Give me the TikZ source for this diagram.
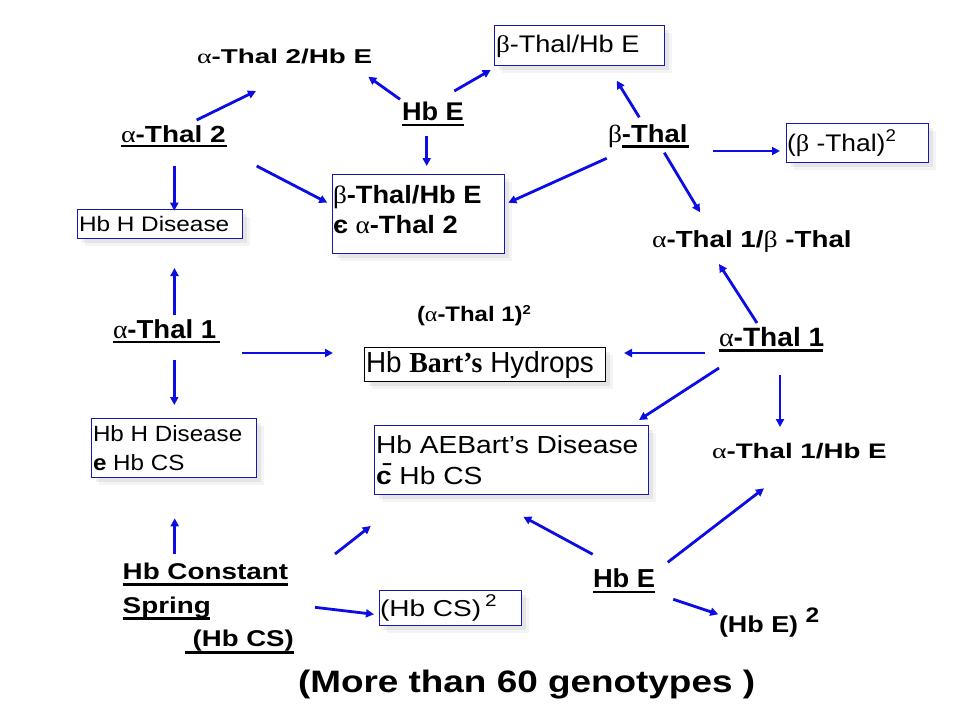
\documentclass[tikz,border=0pt]{standalone}
\usepackage{fontspec}
\setmainfont{Liberation Sans}
\newfontfamily\serifb{Liberation Serif}
\usetikzlibrary{arrows.meta,shadows}
\definecolor{arrblue}{RGB}{12,12,228}
\definecolor{boxblue}{RGB}{24,24,176}
\newcommand\galpha{{\serifb\mdseries α}}
\newcommand\gbeta{{\serifb\mdseries β}}
\newcommand\mytxt[3]{\scalebox{#1}[1]{\fontsize{#2}{#2}\selectfont #3}}
\tikzset{
  txt/.style={inner sep=0pt,outer sep=0pt,anchor=base west},
  boxst/.style={draw=boxblue,line width=1.1pt,fill=white,inner sep=0pt,anchor=north west,
    drop shadow={shadow xshift=4pt,shadow yshift=-4pt,opacity=.10,fill=black!60},
    drop shadow={shadow xshift=7pt,shadow yshift=-7pt,opacity=.07,fill=black!60}},
  blackbox/.style={boxst,draw=black},
  arr/.style={draw=arrblue,line width=2.8pt,-{Triangle[length=8pt,width=8pt]}},
  ul/.style={draw=black,line width=2.8pt}
}
\begin{document}
\begin{tikzpicture}[x=1pt,y=-1pt]
\useasboundingbox[fill=white] (0,0) rectangle (960,720);
% boxes
\node[boxst,minimum width=170pt,minimum height=40pt] (b1) at (494,25) {};
\node[boxst,minimum width=142pt,minimum height=39pt] (b2) at (786,123) {};
\node[boxst,minimum width=165pt,minimum height=29pt] (b3) at (77,209) {};
\node[boxst,minimum width=172pt,minimum height=79pt] (b4) at (332,174) {};
\node[blackbox,minimum width=241pt,minimum height=34pt] (b5) at (364,347) {};
\node[boxst,minimum width=165pt,minimum height=59pt] (b6) at (91,418) {};
\node[boxst,minimum width=274pt,minimum height=69pt] (b7) at (374,425) {};
\node[boxst,minimum width=142pt,minimum height=35pt] (b8) at (379,590) {};
% texts
\node[txt] (t1) at (197,63) {\mytxt{1.39}{20}{\bfseries\galpha-Thal 2/Hb E}};
\node[txt] (t2) at (496,52) {\mytxt{1.13}{24}{\gbeta-Thal/Hb E}};
\node[txt] (t3) at (402,120) {\mytxt{1.06}{25.6}{\bfseries Hb E}};
\node[txt] (t4) at (121,142) {\mytxt{1.2}{23.3}{\bfseries\galpha-Thal 2}};
\node[txt] (t5) at (608,142) {\mytxt{1.11}{24.7}{\bfseries\gbeta-Thal}};
\node[txt] (t6) at (787,151) {\mytxt{1.1}{24}{(\gbeta\ -Thal)\raisebox{10pt}{\fontsize{17}{17}\selectfont 2}}};
\node[txt] (t7) at (79,231.5) {\mytxt{1.16}{21}{Hb H Disease}};
\node[txt] (t8a) at (333,203) {\mytxt{1.09}{25}{\bfseries\gbeta-Thal/Hb E}};
\node[txt] (t8b) at (333,233) {\mytxt{1.09}{25}{\bfseries є \galpha-Thal 2}};
\node[txt] (t9) at (652,247) {\mytxt{1.19}{23.3}{\bfseries\galpha-Thal 1/\gbeta\ -Thal}};
\node[txt] (t10) at (417,321) {\mytxt{1.14}{21}{\bfseries(\galpha-Thal 1)\raisebox{7pt}{\fontsize{13}{13}\selectfont 2}}};
\node[txt] (t11) at (113,338) {\mytxt{1.06}{26}{\bfseries\galpha-Thal 1}};
\node[txt] (t12) at (366,372) {\mytxt{0.96}{29}{Hb {\serifb\bfseries Bart’s} Hydrops}};
\node[txt] (t13) at (719,346) {\mytxt{1.06}{26.5}{\bfseries\galpha-Thal 1}};
\node[txt] (t14a) at (93,441) {\mytxt{1.1}{22}{Hb H Disease}};
\node[txt] (t14b) at (93,470) {\mytxt{1.1}{22}{{\bfseries e} Hb CS}};
\node[txt] (t15a) at (376,453) {\mytxt{1.14}{24.7}{Hb AEBart’s Disease}};
\node[txt] (t15b) at (376,484) {\mytxt{1.14}{24.7}{{\bfseries\={c}} Hb CS}};
\node[txt] (t16) at (712,458) {\mytxt{1.32}{21}{\bfseries\galpha-Thal 1/Hb E}};
\node[txt] (t17) at (593,587) {\mytxt{1.05}{26}{\bfseries Hb E}};
\node[txt] (t18) at (719,632) {\mytxt{1.17}{23}{\bfseries(Hb E) \raisebox{10pt}{\fontsize{21}{21}\selectfont 2}}};
\node[txt] (t19a) at (122.7,579.3) {\mytxt{1.22}{22.8}{\bfseries Hb Constant}};
\node[txt] (t19b) at (122.7,613.3) {\mytxt{1.22}{22.8}{\bfseries Spring}};
\node[txt] (t19c) at (192.7,646.7) {\mytxt{1.21}{22.8}{\bfseries(Hb CS)}};
\node[txt] (t20) at (380,616.7) {\mytxt{1.22}{23}{(Hb CS)\hspace{3pt}\raisebox{10.5pt}{\fontsize{17}{17}\selectfont 2}}};
\node[txt] (t21) at (298,692) {\mytxt{1.19}{31}{\bfseries(More than 60 genotypes )}};
% underlines
\draw[ul] (t3.base west) ++(0,5) -- ++(62,0);
\draw[ul] (t4.base west) ++(0,4) -- ++(106,0);
\draw[ul] (t5.base west) ++(14,4.5) -- ++(67,0);
\draw[ul] (t11.base west) ++(0,4) -- ++(107,0);
\draw[ul] (t13.base west) ++(0,4.5) -- ++(104,0);
\draw[ul] (t17.base west) ++(0,5) -- ++(62,0);
\draw[ul] (t19a.base west) ++(0,5.5) -- ++(165,0);
\draw[ul] (t19b.base west) ++(0,5.5) -- ++(87,0);
\draw[ul] (t19c.base west) ++(-7.7,5.5) -- ++(109,0);
% arrow end points
\coordinate (a1s) at (196.7,120);   \coordinate (a1e) at (256,91);
\coordinate (a2s) at (400,99.3);    \coordinate (a2e) at (368.3,76.7);
\coordinate (a3s) at (454.3,91);    \coordinate (a3e) at (490.7,70);
\coordinate (a4s) at (426.7,136);   \coordinate (a4e) at (426.7,166);
\coordinate (a5s) at (174.3,166);   \coordinate (a5e) at (174.3,210.7);
\coordinate (a6s) at (256.7,166);   \coordinate (a6e) at (327.3,202.7);
\coordinate (a7s) at (606.7,158.3); \coordinate (a7e) at (508.3,202.7);
\coordinate (a8s) at (639.3,117.3); \coordinate (a8e) at (616.7,80.7);
\coordinate (a9s) at (713.3,151);   \coordinate (a9e) at (780,151);
\coordinate (a10s) at (664.3,152.7); \coordinate (a10e) at (700,212.3);
\coordinate (a11s) at (757,323);    \coordinate (a11e) at (719,264);
\coordinate (a12s) at (705,353);    \coordinate (a12e) at (624,353);
\coordinate (a13s) at (719,368);    \coordinate (a13e) at (639,420);
\coordinate (a14s) at (780,375);    \coordinate (a14e) at (780,427);
\coordinate (a15s) at (174.5,315);  \coordinate (a15e) at (174.5,268);
\coordinate (a16s) at (242,353);    \coordinate (a16e) at (333,353);
\coordinate (a17s) at (174.3,360);  \coordinate (a17e) at (174.3,405);
\coordinate (a18s) at (174.7,554);  \coordinate (a18e) at (174.7,518.3);
\coordinate (a19s) at (335,554);    \coordinate (a19e) at (370.7,526);
\coordinate (a20s) at (315,607.3);  \coordinate (a20e) at (374,614.3);
\coordinate (a21s) at (592.7,554.3); \coordinate (a21e) at (523.3,516.7);
\coordinate (a22s) at (667.7,562.3); \coordinate (a22e) at (764,488.3);
\coordinate (a23s) at (673.3,599.3); \coordinate (a23e) at (718.3,614.3);
\foreach \i in {1,...,23} {\draw[arr] (a\i s) -- (a\i e);}
\end{tikzpicture}
\end{document}
